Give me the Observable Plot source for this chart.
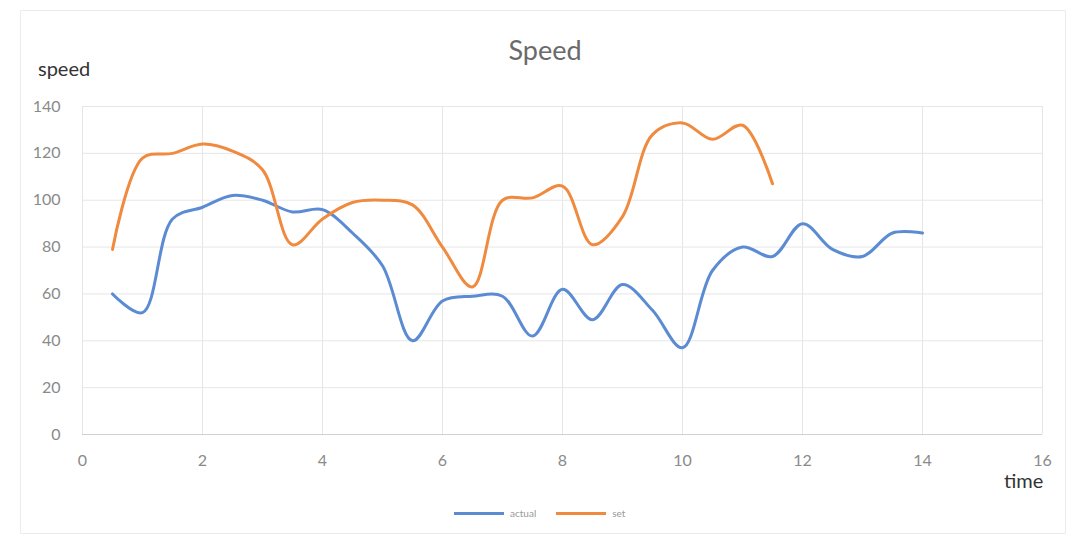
<!DOCTYPE html>
<html>
<head>
<meta charset="utf-8">
<script src="https://cdn.jsdelivr.net/npm/d3@7"></script>
<script src="https://cdn.jsdelivr.net/npm/@observablehq/plot@0.6"></script>
<style>
  html, body { margin: 0; padding: 0; background: #fff; }
  #wrap { position: relative; width: 1081px; height: 541px; overflow: hidden; font-family: Lato, "Open Sans", sans-serif; }
  #frame { position: absolute; left: 20px; top: 10px; width: 1046px; height: 524px; border: 1px solid #ececec; box-sizing: border-box; }
  #chart { position: absolute; left: 0; top: 0; }
  .lbl { position: absolute; white-space: nowrap; }
  #title { left: 0; width: 1090px; top: 33px; text-align: center; font-size: 27px; color: #6a6a6a; }
  #ylab { left: 38px; top: 56px; font-size: 20px; color: #333; }
  #xlab { left: 1004px; top: 468px; font-size: 20px; color: #333; }
  #legend { left: 454px; top: 507px; font-size: 10px; color: #999; display: flex; align-items: center; gap: 6px; }
  .sw { display: inline-block; width: 50px; height: 3px; }
</style>
</head>
<body>
<div id="wrap">
  <div id="frame"></div>
  <div id="chart"></div>
  <div class="lbl" id="title">Speed</div>
  <div class="lbl" id="ylab">speed</div>
  <div class="lbl" id="xlab">time</div>
  <div class="lbl" id="legend"></div>
</div>
<script>
// Series names
const seriesNames = ["actual", "set"];
const seriesColors = ["#5b8bd3", "#ef8a3f"];

// actual speed
const actualTime = [0.5, 1, 1.5, 2, 2.5, 3, 3.5, 4, 4.5, 5, 5.5, 6, 6.5, 7, 7.5, 8, 8.5, 9, 9.5, 10, 10.5, 11, 11.5, 12, 12.5, 13, 13.5, 14];
const actualSpeed = [60, 52, 92, 97, 102, 100, 95, 96, 86, 72, 40, 57, 59, 59, 42, 62, 49, 64, 53, 37, 70, 80, 76, 90, 79, 76, 86, 86];

// set speed
const setTime = [0.5, 1, 1.5, 2, 2.5, 3, 3.5, 4, 4.5, 5, 5.5, 6, 6.5, 7, 7.5, 8, 8.5, 9, 9.5, 10, 10.5, 11, 11.5];
const setSpeed = [79, 118, 120, 124, 121, 113, 81, 92, 99, 100, 98, 80, 63, 100, 101, 106, 81, 93, 128, 133, 126, 132, 107];

const xTicks = [0, 2, 4, 6, 8, 10, 12, 14, 16];
const yTicks = [0, 20, 40, 60, 80, 100, 120, 140];

const rows = [
  ...actualTime.map((t, i) => ({time: t, speed: actualSpeed[i], series: seriesNames[0]})),
  ...setTime.map((t, i) => ({time: t, speed: setSpeed[i], series: seriesNames[1]}))
];

const chart = Plot.plot({
  width: 1081,
  height: 541,
  marginLeft: 82,
  marginRight: 39,
  marginTop: 106,
  marginBottom: 107,
  style: {fontFamily: "Lato, 'Open Sans', sans-serif", fontSize: "16px", color: "#8a8a8a", background: "transparent"},
  x: {domain: [0, 16], ticks: xTicks, label: null},
  y: {domain: [0, 140], ticks: yTicks, label: null},
  color: {domain: seriesNames, range: seriesColors},
  marks: [
    Plot.gridX(xTicks, {stroke: "#e6e6e6", strokeOpacity: 1, strokeWidth: 1}),
    Plot.gridY(yTicks, {stroke: "#e6e6e6", strokeOpacity: 1, strokeWidth: 1}),
    Plot.ruleY([0], {stroke: "#d0d0d0", strokeWidth: 1.2}),
    Plot.axisX(xTicks, {tickSize: 0, tickPadding: 20, fill: "#8a8a8a", fontSize: 16}),
    Plot.axisY(yTicks, {tickSize: 0, tickPadding: 22, fill: "#8a8a8a", fontSize: 16}),
    Plot.line(rows, {x: "time", y: "speed", z: "series", stroke: "series", strokeWidth: 3, curve: "catmull-rom"})
  ]
});
document.getElementById("chart").appendChild(chart);

const legend = document.getElementById("legend");
seriesNames.forEach((name, i) => {
  const sw = document.createElement("span");
  sw.className = "sw";
  sw.style.background = seriesColors[i];
  const tx = document.createElement("span");
  tx.textContent = name;
  tx.style.marginRight = "14px";
  legend.appendChild(sw);
  legend.appendChild(tx);
});
</script>
</body>
</html>
